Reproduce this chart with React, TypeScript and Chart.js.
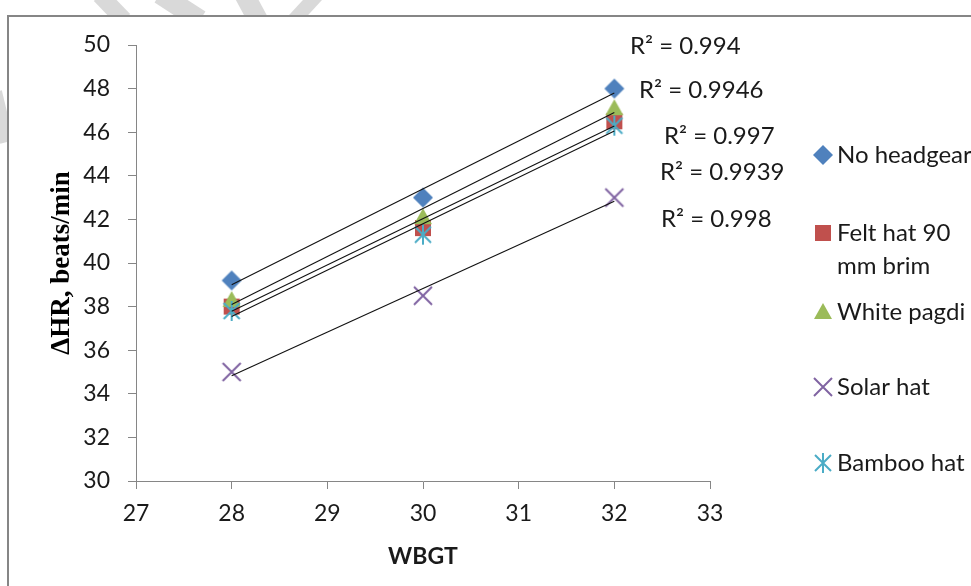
import React, { useEffect, useRef } from "react";
import { Chart, registerables } from "chart.js";
Chart.register(...registerables);

// ---- data ----
const wbgt = [28, 30, 32];
const noHeadgear = [39.2, 43.0, 48.0];
const feltHat = [38.0, 41.6, 46.5];
const whitePagdi = [38.3, 42.1, 47.1];
const solarHat = [35.0, 38.5, 43.0];
const bambooHat = [37.8, 41.3, 46.3];

const seriesNames = ["No headgear", "Felt hat 90 mm brim", "White pagdi", "Solar hat", "Bamboo hat"];
const legendLines = [["No headgear"], ["Felt hat 90", "mm brim"], ["White pagdi"], ["Solar hat"], ["Bamboo hat"]];
const r2Labels = ["R\u00B2 = 0.994", "R\u00B2 = 0.9946", "R\u00B2 = 0.997", "R\u00B2 = 0.9939", "R\u00B2 = 0.998"];

const xMin = 27, xMax = 33, xStep = 1;
const yMin = 30, yMax = 50, yStep = 2;

const seriesValues = [noHeadgear, feltHat, whitePagdi, solarHat, bambooHat];
const seriesColors = ["#4F81BD", "#C0504D", "#9BBB59", "#8064A2", "#4BACC6"];
const seriesShapes = ["diamond", "square", "triangle", "x", "star"];

const FONT = "Lato, 'Open Sans', sans-serif";
const TEXT = "#1a1a1a";
const AXIS = "#868686";

function makeMarker(kind: string, color: string): HTMLCanvasElement {
  const s = 24;
  const c = document.createElement("canvas");
  c.width = s;
  c.height = s;
  const g = c.getContext("2d")!;
  const m = s / 2;
  g.fillStyle = color;
  g.strokeStyle = color;
  g.lineWidth = 2;
  g.lineCap = "butt";
  g.beginPath();
  if (kind === "diamond") {
    g.moveTo(m, m - 10);
    g.lineTo(m + 10, m);
    g.lineTo(m, m + 10);
    g.lineTo(m - 10, m);
    g.closePath();
    g.fill();
  } else if (kind === "square") {
    g.rect(m - 8, m - 8, 16, 16);
    g.fill();
  } else if (kind === "triangle") {
    g.moveTo(m, m - 9);
    g.lineTo(m + 9, m + 7);
    g.lineTo(m - 9, m + 7);
    g.closePath();
    g.fill();
  } else if (kind === "x") {
    g.moveTo(m - 9, m - 9);
    g.lineTo(m + 9, m + 9);
    g.moveTo(m + 9, m - 9);
    g.lineTo(m - 9, m + 9);
    g.stroke();
  } else if (kind === "star") {
    g.moveTo(m - 8, m - 8);
    g.lineTo(m + 8, m + 8);
    g.moveTo(m + 8, m - 8);
    g.lineTo(m - 8, m + 8);
    g.moveTo(m, m - 10);
    g.lineTo(m, m + 10);
    g.stroke();
  }
  return c;
}

function trend(xs: number[], ys: number[]) {
  const n = xs.length;
  const mx = xs.reduce((a, b) => a + b, 0) / n;
  const my = ys.reduce((a, b) => a + b, 0) / n;
  let sxy = 0, sxx = 0;
  for (let i = 0; i < n; i++) {
    sxy += (xs[i] - mx) * (ys[i] - my);
    sxx += (xs[i] - mx) * (xs[i] - mx);
  }
  const b = sxy / sxx;
  const a = my - b * mx;
  return [
    { x: xs[0], y: a + b * xs[0] },
    { x: xs[n - 1], y: a + b * xs[n - 1] },
  ];
}

export default function App() {
  const ref = useRef<HTMLCanvasElement>(null);

  useEffect(() => {
    const canvas = ref.current!;
    const markers = seriesShapes.map((k, i) => makeMarker(k, seriesColors[i]));

    const pointSets = seriesValues.map((vals, i) => ({
      type: "scatter" as const,
      label: seriesNames[i],
      data: wbgt.map((x, j) => ({ x, y: vals[j] })),
      pointStyle: markers[i],
      pointRadius: 10,
      showLine: false,
      order: 10 - i,
    }));
    const trendSets = seriesValues.map((vals, i) => ({
      type: "scatter" as const,
      label: seriesNames[i] + " trend",
      data: trend(wbgt, vals),
      showLine: true,
      borderColor: "#111111",
      borderWidth: 1.1,
      pointRadius: 0,
      order: 0,
    }));

    const overlay = {
      id: "overlay",
      beforeDraw(chart: any) {
        const ctx = chart.ctx;
        ctx.save();
        ctx.fillStyle = "#ffffff";
        ctx.fillRect(0, 0, chart.width, chart.height);
        // faint page watermark fragments outside the chart frame
        ctx.strokeStyle = "#d9d9d9";
        ctx.lineCap = "butt";
        const strokes: [number, number, number, number, number][] = [
          [100, -5, 124, 20, 17],
          [160, -6, 200, 20, 20],
          [244, -6, 258, 20, 20],
          [318, -6, 294, 20, 14],
          [-5, 92, 7, 142, 14],
        ];
        strokes.forEach(([x1, y1, x2, y2, w]) => {
          ctx.lineWidth = w;
          ctx.beginPath();
          ctx.moveTo(x1, y1);
          ctx.lineTo(x2, y2);
          ctx.stroke();
        });
        ctx.fillStyle = "#ffffff";
        ctx.fillRect(9, 17, chart.width, chart.height);
        ctx.strokeStyle = AXIS;
        ctx.lineWidth = 2;
        ctx.strokeRect(8, 16, 3000, 3000);
        ctx.restore();
      },
      afterDraw(chart: any) {
        const ctx = chart.ctx;
        const area = chart.chartArea;
        ctx.save();
        ctx.fillStyle = TEXT;
        ctx.font = `24px ${FONT}`;
        ctx.textBaseline = "middle";
        ctx.textAlign = "left";
        // R² labels (positions relative to plot area's right/top)
        const r2Pos = [
          [-80, 1],
          [-71, 45],
          [-46, 91],
          [-50, 127],
          [-49, 174],
        ];
        r2Labels.forEach((t, i) => {
          ctx.fillText(t, area.right + r2Pos[i][0], area.top + r2Pos[i][1]);
        });
        // legend
        const legendX = area.right + 113;
        const legendY = [110, 188, 267, 342, 418];
        legendLines.forEach((lines, i) => {
          const y = area.top + legendY[i];
          const mk = markers[i];
          ctx.drawImage(mk, legendX - mk.width / 2, y - mk.height / 2);
          lines.forEach((ln, k) => {
            ctx.fillText(ln, legendX + 14, y + k * 33);
          });
        });
        ctx.restore();
      },
    };

    const chart = new Chart(canvas, {
      type: "scatter",
      data: { datasets: [...pointSets, ...trendSets] as any },
      options: {
        responsive: false,
        animation: false,
        devicePixelRatio: 1,
        layout: { padding: { left: 0, top: 45, right: 261, bottom: 0 } },
        plugins: {
          legend: { display: false },
          tooltip: { enabled: false },
        },
        scales: {
          x: {
            type: "linear",
            min: xMin,
            max: xMax,
            afterFit: (s: any) => {
              s.height = 105;
            },
            ticks: {
              stepSize: xStep,
              color: TEXT,
              font: { family: FONT, size: 23 },
              padding: 11,
            },
            grid: {
              display: true,
              drawOnChartArea: false,
              drawTicks: true,
              tickLength: 8,
              color: AXIS,
            },
            border: { display: true, color: AXIS, width: 1 },
            title: {
              display: true,
              text: "WBGT",
              color: TEXT,
              font: { family: FONT, size: 23, weight: "bold" },
              padding: { top: 0, bottom: 16 },
            },
          },
          y: {
            type: "linear",
            min: yMin,
            max: yMax,
            afterFit: (s: any) => {
              s.width = 136;
            },
            ticks: {
              stepSize: yStep,
              color: TEXT,
              font: { family: FONT, size: 23 },
              padding: 18,
            },
            grid: {
              display: true,
              drawOnChartArea: false,
              drawTicks: true,
              tickLength: 8,
              color: AXIS,
            },
            border: { display: true, color: AXIS, width: 1 },
            title: {
              display: true,
              text: "\u0394HR, beats/min",
              color: "#000000",
              font: { family: "'Liberation Serif', 'Times New Roman', serif", size: 27, weight: "bold" },
              padding: { top: 45.8, bottom: 0 },
            },
          },
        },
      },
      plugins: [overlay],
    });
    return () => chart.destroy();
  }, []);

  return (
    <canvas
      ref={ref}
      width={971}
      height={586}
      style={{ position: "fixed", left: 0, top: 0, width: 971, height: 586, display: "block" }}
    />
  );
}
